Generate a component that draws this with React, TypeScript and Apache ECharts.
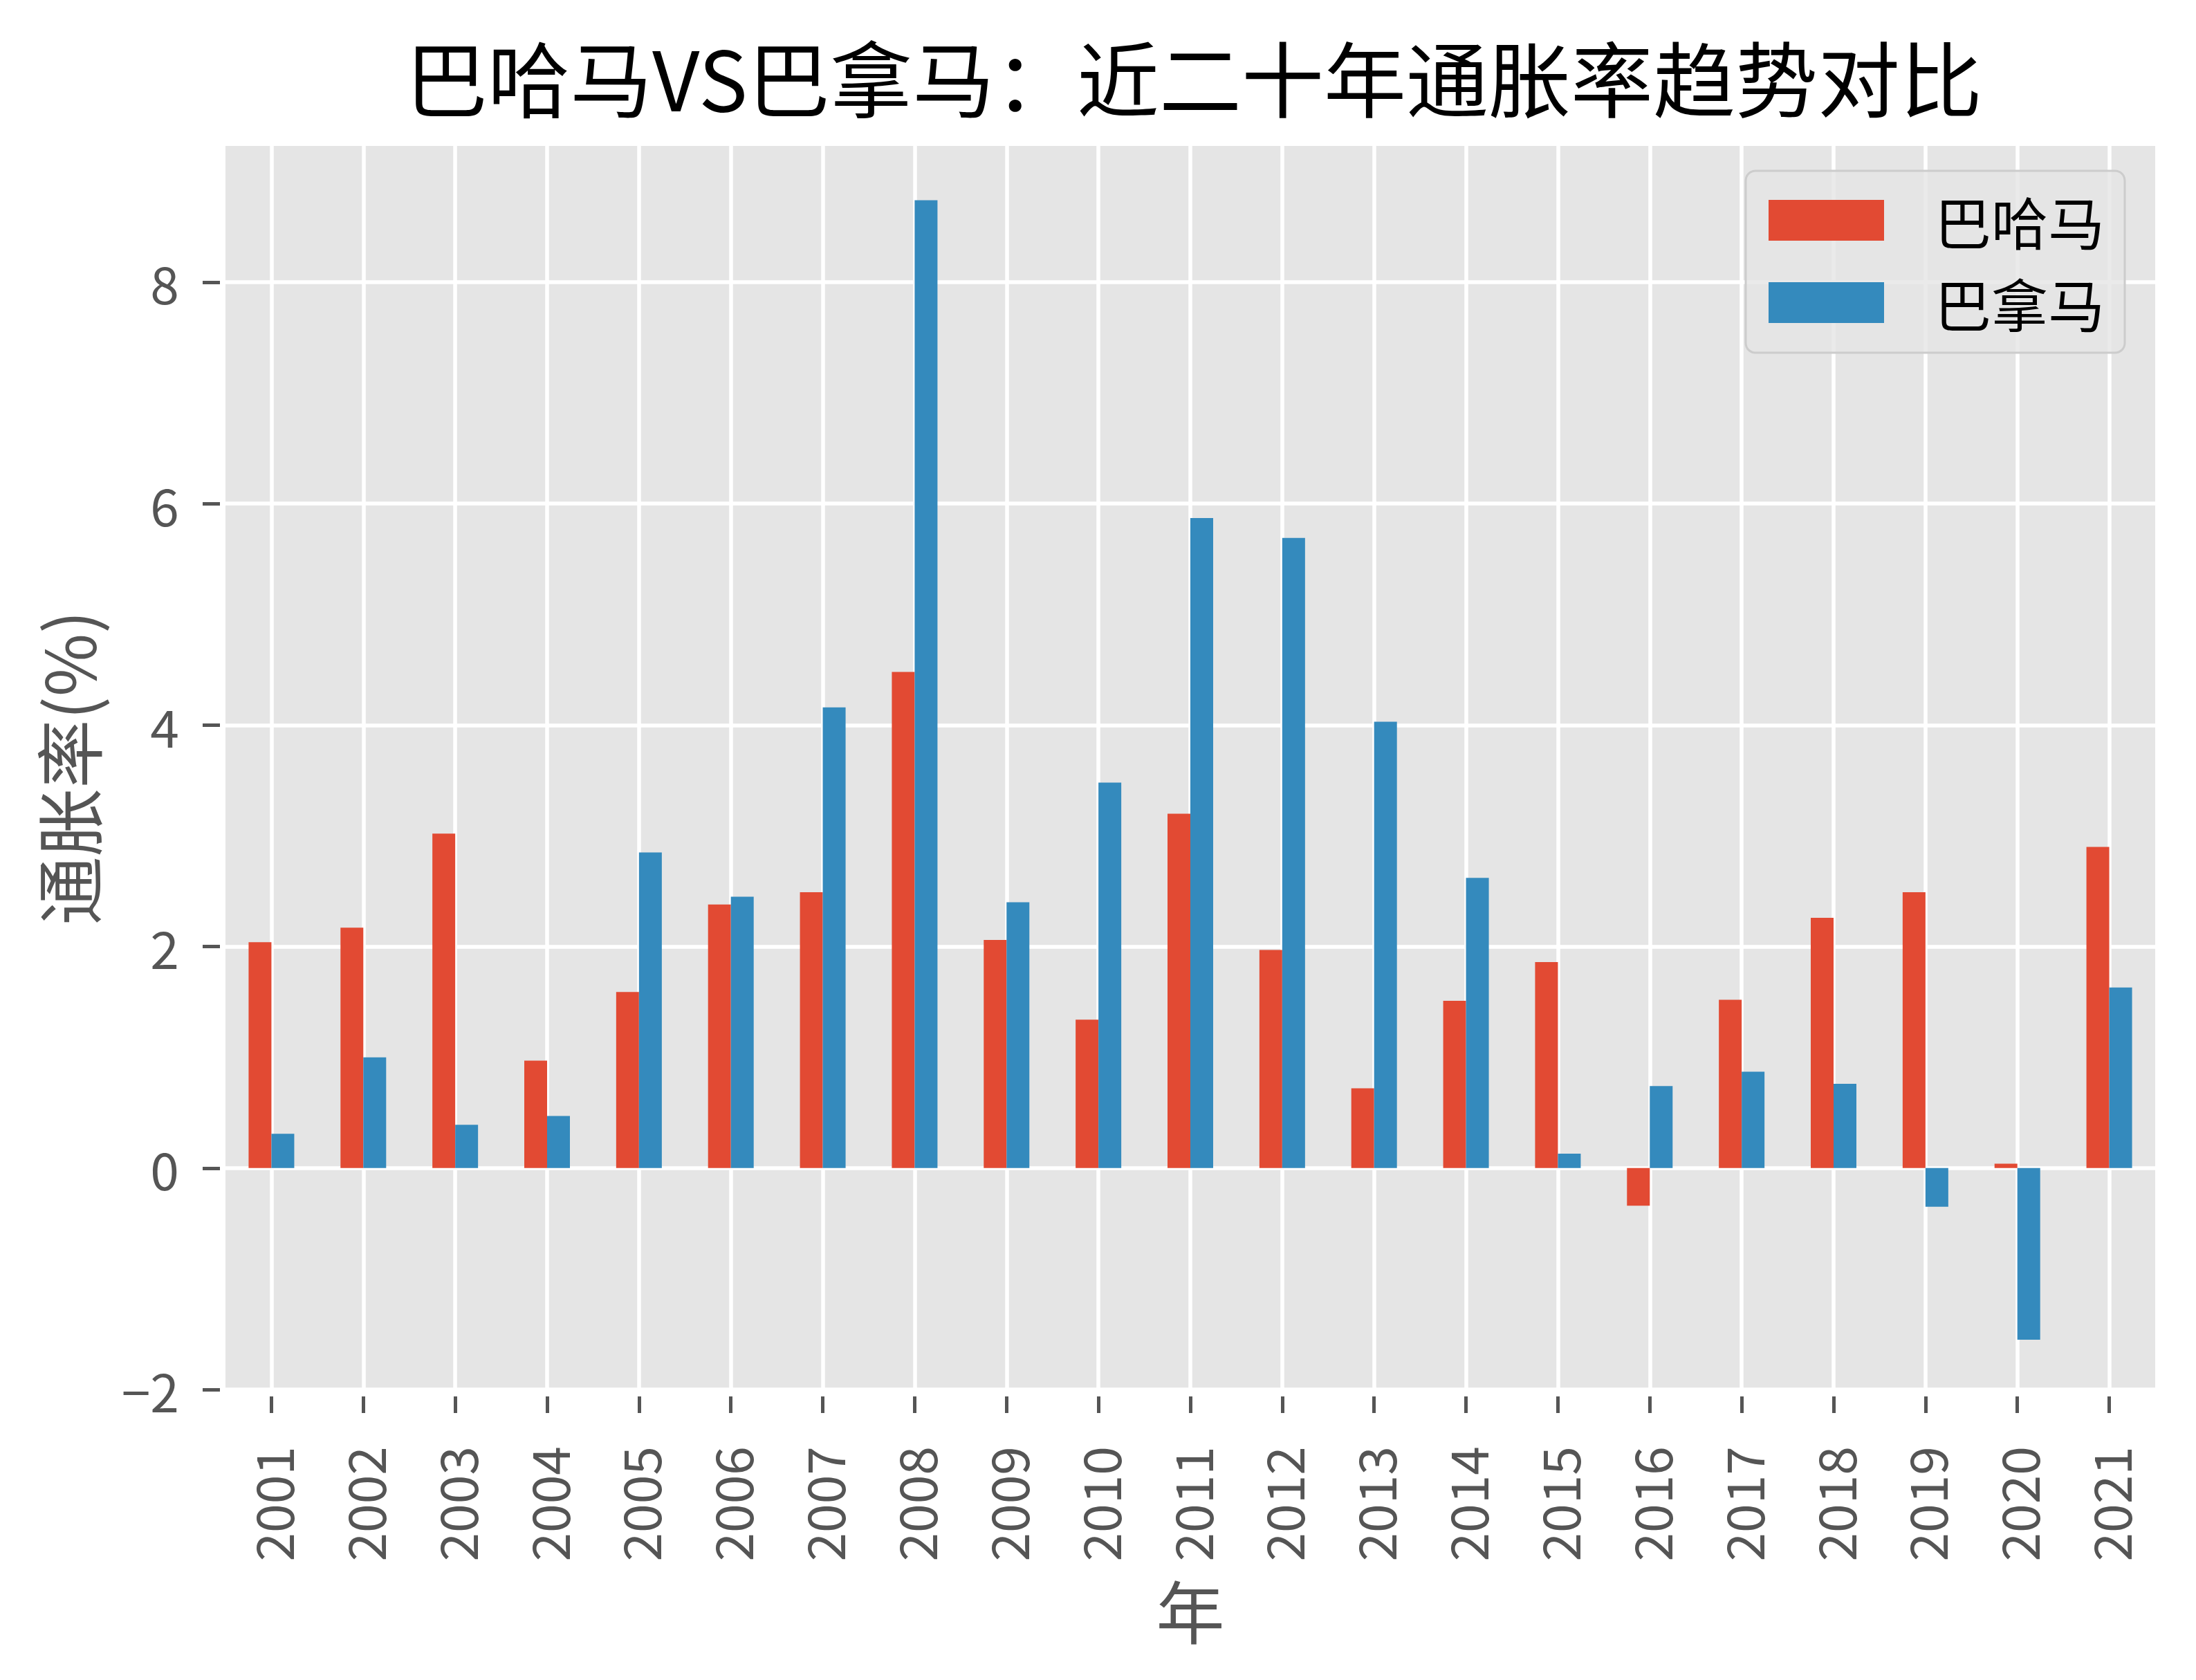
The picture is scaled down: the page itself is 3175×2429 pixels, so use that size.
import React, { useEffect, useRef } from 'react';
import * as echarts from 'echarts';

const years = ['2001', '2002', '2003', '2004', '2005', '2006', '2007', '2008', '2009', '2010', '2011', '2012', '2013', '2014', '2015', '2016', '2017', '2018', '2019', '2020', '2021'];
const bahamas = [2.04, 2.17, 3.02, 0.97, 1.59, 2.38, 2.49, 4.48, 2.06, 1.34, 3.2, 1.97, 0.72, 1.51, 1.86, -0.34, 1.52, 2.26, 2.49, 0.04, 2.9];
const panama = [0.31, 1.0, 0.39, 0.47, 2.85, 2.45, 4.16, 8.74, 2.4, 3.48, 5.87, 5.69, 4.03, 2.62, 0.13, 0.74, 0.87, 0.76, -0.35, -1.55, 1.63];
const yTicks = [-2, 0, 2, 4, 6, 8];
const seriesNames = ['巴哈马', '巴拿马'];
const titleText = '巴哈马VS巴拿马：近二十年通胀率趋势对比';

const CJK = "'Noto Sans CJK SC', sans-serif";
const NUM = "'Noto Sans CJK SC', sans-serif";

export default function App() {
  const ref = useRef<HTMLDivElement>(null);
  useEffect(() => {
    document.body.style.margin = '0';
    const chart = echarts.init(ref.current!, null, { renderer: 'svg' });
    chart.setOption({
      animation: false,
      backgroundColor: '#ffffff',
      title: {
        text: titleText,
        left: 1721,
        top: 44,
        textAlign: 'center',
        textStyle: { fontFamily: CJK, fontSize: 119, fontWeight: 'normal', color: '#000000' },
      },
      legend: {
        orient: 'vertical',
        left: 2524,
        top: 247,
        icon: 'rect',
        itemWidth: 167,
        itemHeight: 59,
        itemGap: 36,
        padding: [30, 29, 31, 33],
        backgroundColor: 'rgba(229,229,229,0.8)',
        borderColor: '#CCCCCC',
        borderWidth: 3,
        borderRadius: 14,
        textStyle: { fontFamily: CJK, fontSize: 82, lineHeight: 83, color: '#000000', padding: [0, 0, 0, 68] },
        data: seriesNames,
      },
      grid: {
        left: 326,
        top: 211,
        width: 2790,
        height: 1798,
        show: true,
        backgroundColor: '#E5E5E5',
        borderWidth: 0,
        containLabel: false,
      },
      xAxis: {
        type: 'category',
        data: years,
        offset: 10,
        axisLine: { show: false, onZero: false },
        axisTick: { show: true, alignWithLabel: true, length: 24, lineStyle: { color: '#555555', width: 5 } },
        axisLabel: { rotate: 90, margin: 72, color: '#555555', fontSize: 75, fontFamily: NUM, interval: 0 },
        splitLine: { show: true, alignWithLabel: true, lineStyle: { color: '#ffffff', width: 5.5 } },
        name: '年',
        nameLocation: 'middle',
        nameGap: 257,
        nameTextStyle: { fontSize: 99, color: '#555555', fontFamily: CJK },
      },
      yAxis: {
        type: 'value',
        min: -2,
        max: 9.23,
        interval: 2,
        offset: 8,
        axisLine: { show: false },
        axisTick: { show: true, length: 25, customValues: yTicks, lineStyle: { color: '#555555', width: 5 } },
        axisLabel: {
          margin: 59,
          color: '#555555',
          fontSize: 75,
          fontFamily: NUM,
          customValues: yTicks,
          formatter: (v: number) => (yTicks.indexOf(v) >= 0 ? String(v).replace('-', '\u2212') : ''),
        },
        splitLine: { show: true, lineStyle: { color: '#ffffff', width: 5.5 } },
        name: '通胀率(%)',
        nameLocation: 'middle',
        nameRotate: 90,
        nameGap: 173,
        nameTextStyle: { fontSize: 99, color: '#555555', fontFamily: CJK },
      },
      series: [
        { type: 'bar', name: seriesNames[0], data: bahamas, barWidth: 33, barGap: '0%', itemStyle: { color: '#E24A33' } },
        { type: 'bar', name: seriesNames[1], data: panama, barWidth: 33, barGap: '0%', itemStyle: { color: '#348ABD' } },
      ],
    });
    return () => chart.dispose();
  }, []);
  return <div ref={ref} style={{ width: 3175, height: 2429 }} />;
}
